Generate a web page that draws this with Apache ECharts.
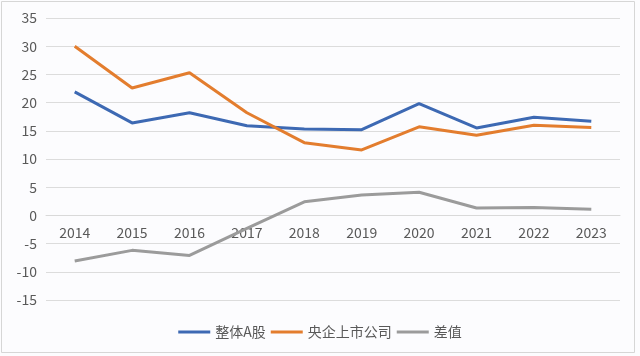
<!DOCTYPE html>
<html>
<head>
<meta charset="utf-8">
<script src="https://cdn.jsdelivr.net/npm/echarts@6/dist/echarts.min.js"></script>
<style>
html,body{margin:0;padding:0;background:#fff;}
#c{width:640px;height:356px;}
</style>
</head>
<body>
<div id="c"></div>
<script>
var years = ['2014','2015','2016','2017','2018','2019','2020','2021','2022','2023'];
var allA = [21.9, 16.4, 18.2, 15.9, 15.3, 15.2, 19.8, 15.5, 17.4, 16.7];
var soe = [30.0, 22.6, 25.3, 18.2, 12.9, 11.6, 15.7, 14.2, 16.0, 15.6];
var diff = [-8.1, -6.2, -7.1, -2.3, 2.4, 3.6, 4.1, 1.3, 1.4, 1.1];
var names = ['整体A股', '央企上市公司', '差值'];
var colors = ['#3D69B3', '#E37D2E', '#9B9B9B'];

var font = '"Noto Sans CJK SC", "Microsoft YaHei", sans-serif';
var chart = echarts.init(document.getElementById('c'), null, {renderer: 'canvas'});
function mk(name, data, color) {
  return {
    name: name, type: 'line', data: data, symbol: 'none',
    lineStyle: {width: 3, color: color}, itemStyle: {color: color},
    emphasis: {disabled: true}
  };
}
chart.setOption({
  animation: false,
  backgroundColor: '#fcfcfe',
  textStyle: {fontFamily: font},
  graphic: [{
    type: 'rect', shape: {x: 1.5, y: 1.5, width: 633, height: 351},
    style: {fill: 'none', stroke: '#d6d6d6', lineWidth: 1}, silent: true
  }],
  grid: {left: 46, right: 20, top: 18, bottom: 56, containLabel: false},
  legend: {
    data: names, top: 320, left: 'center',
    icon: 'rect', itemWidth: 32, itemHeight: 3, itemGap: 5,
    textStyle: {fontSize: 14, color: '#595959', fontFamily: font}
  },
  xAxis: {
    type: 'category', data: years, boundaryGap: true,
    position: 'bottom', offset: -84.6,
    axisLine: {show: true, onZero: false, lineStyle: {color: '#d9d9d9', width: 1}},
    axisTick: {show: false},
    axisLabel: {fontSize: 14, color: '#595959', margin: 10, fontFamily: font}
  },
  yAxis: {
    type: 'value', min: -15, max: 35, interval: 5,
    axisLine: {show: false}, axisTick: {show: false},
    splitLine: {lineStyle: {color: '#dcdcdc', width: 1}},
    axisLabel: {fontSize: 14, color: '#595959', margin: 9, fontFamily: font}
  },
  series: [mk(names[0], allA, colors[0]), mk(names[1], soe, colors[1]), mk(names[2], diff, colors[2])]
});
</script>
</body>
</html>
